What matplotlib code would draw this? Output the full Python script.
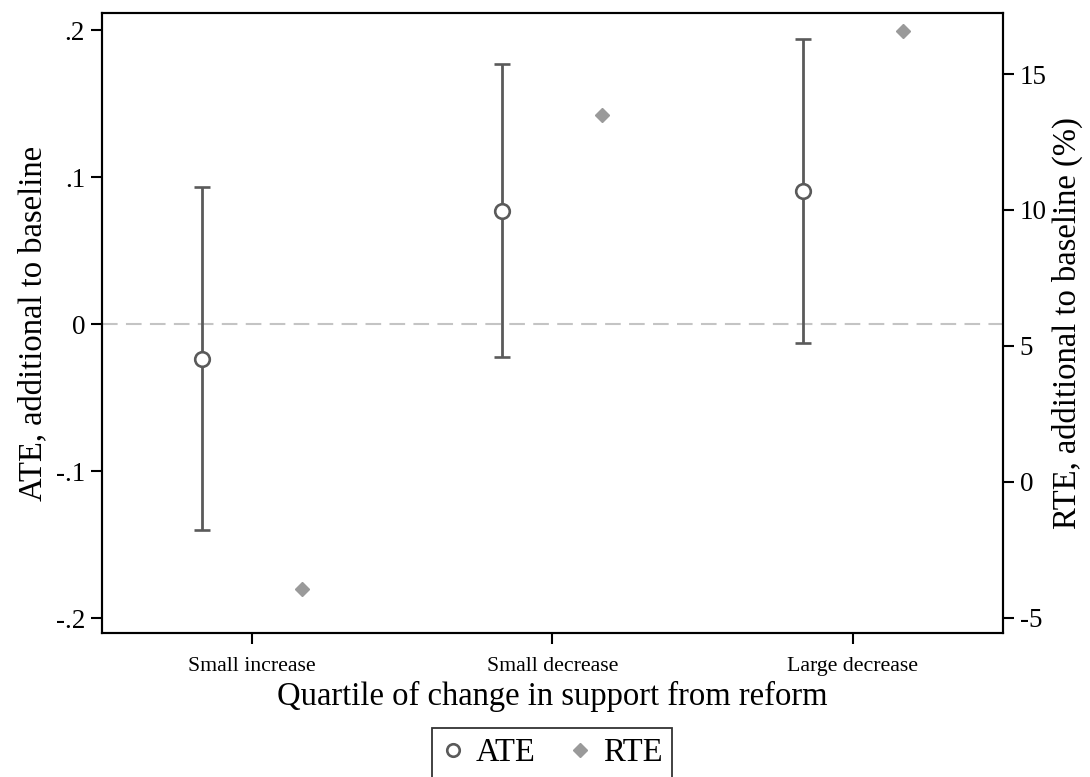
import matplotlib
matplotlib.use("Agg")
import matplotlib.pyplot as plt
from matplotlib.lines import Line2D
import numpy as np

plt.rcParams['font.family'] = ['Liberation Serif', 'DejaVu Serif']
plt.rcParams['axes.unicode_minus'] = False

# ---- data ----
categories = ["Small increase", "Small decrease", "Large decrease"]
ate = [-0.0238, 0.0769, 0.0903]
ate_lo = [-0.140, -0.0222, -0.0131]
ate_hi = [0.0934, 0.1767, 0.1939]
rte = [-3.96, 13.50, 16.60]
left_ticks = [-0.2, -0.1, 0.0, 0.1, 0.2]
left_ticklabels = ["-.2", "-.1", "0", ".1", ".2"]
right_ticks = [-5, 0, 5, 10, 15]
right_ticklabels = ["-5", "0", "5", "10", "15"]

dark = "#5a5a5a"
light = "#9a9a9a"

fig = plt.figure(figsize=(10.9, 7.77), dpi=100)
ax = fig.add_axes([101.7 / 1090, 1 - 633 / 777, (1003 - 101.7) / 1090, 620 / 777])
ax2 = ax.twinx()

x = np.arange(1, len(categories) + 1)
off = 1 / 6
ate_a = np.array(ate)
yerr = [ate_a - np.array(ate_lo), np.array(ate_hi) - ate_a]

ax.axhline(0, color="#c4c4c4", lw=1.5, dashes=(7.5, 4), zorder=1)
ax.errorbar(x - off, ate_a, yerr=yerr, fmt='o', mfc='white', mec=dark, ecolor=dark,
            elinewidth=2.0, capsize=5.6, capthick=2.0, ms=10.5, mew=1.9, zorder=3)
ax2.plot(x + off, rte, linestyle='none', marker='D', color=light, ms=7.4, mec=light, zorder=3)

ax.set_xlim(0.5, 3.5)
ax.set_ylim(-0.2102, 0.2116)
ax2.set_ylim(-5.57, 17.25)

ax.set_xticks(x)
ax.set_xticklabels(categories, fontsize=15.7)
ax.set_yticks(left_ticks)
ax.set_yticklabels(left_ticklabels, fontsize=19.5)
ax2.set_yticks(right_ticks)
ax2.set_yticklabels(right_ticklabels, fontsize=19.5)

for a in (ax, ax2):
    for s in a.spines.values():
        s.set_linewidth(1.5)
        s.set_color("black")
    a.tick_params(direction='out', length=8, width=1.5, colors='black')
ax.tick_params(axis='y', pad=4)
ax.tick_params(axis='x', pad=9)
ax2.tick_params(axis='y', pad=4)

ax.set_xlabel("Quartile of change in support from reform", fontsize=23.5, labelpad=4)
ax.set_ylabel("ATE, additional to baseline", fontsize=23.5, labelpad=5)
ax2.set_ylabel("RTE, additional to baseline (%)", fontsize=23.5, labelpad=4)

handles = [
    Line2D([], [], linestyle='none', marker='o', mfc='white', mec=dark, ms=9, mew=1.9),
    Line2D([], [], linestyle='none', marker='D', color=light, ms=7),
]
leg = fig.legend(handles, ["ATE", "RTE"], loc='upper left', bbox_to_anchor=(432 / 1090, 1 - 728 / 777),
                 ncol=2, fontsize=23.5, frameon=True, fancybox=False, edgecolor='black',
                 handletextpad=0.35, columnspacing=1.0, handlelength=0.7, borderpad=0.3,
                 borderaxespad=0)
leg.get_frame().set_linewidth(1.3)

fig.savefig("out.png", dpi=100)
